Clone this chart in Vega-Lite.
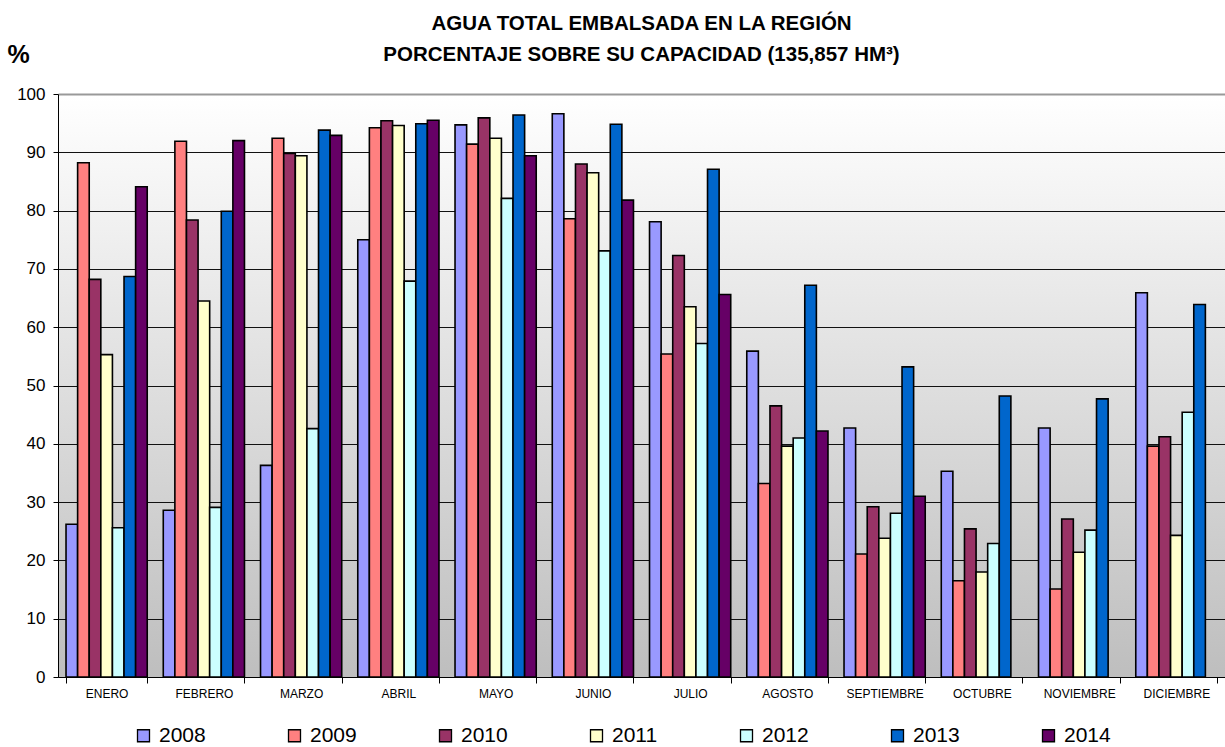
{
  "$schema": "https://vega.github.io/schema/vega-lite/v6.json",
  "width": 1167,
  "height": 583,
  "autosize": "none",
  "padding": {"left": 58, "top": 94, "right": 0, "bottom": 70},
  "title": {
    "text": ["AGUA TOTAL EMBALSADA EN LA REGIÓN", "PORCENTAJE SOBRE SU CAPACIDAD (135,857 HM³)"],
    "font": "Liberation Sans",
    "fontSize": 20.5,
    "fontWeight": "bold",
    "color": "#000",
    "anchor": "middle",
    "lineHeight": 31,
    "offset": -23
  },
  "data": {
    "values": [
      {"mes": "ENERO", "anio": "2008", "valor": 26.2},
      {"mes": "ENERO", "anio": "2009", "valor": 88.2},
      {"mes": "ENERO", "anio": "2010", "valor": 68.2},
      {"mes": "ENERO", "anio": "2011", "valor": 55.3},
      {"mes": "ENERO", "anio": "2012", "valor": 25.6},
      {"mes": "ENERO", "anio": "2013", "valor": 68.7},
      {"mes": "ENERO", "anio": "2014", "valor": 84.1},
      {"mes": "FEBRERO", "anio": "2008", "valor": 28.6},
      {"mes": "FEBRERO", "anio": "2009", "valor": 91.9},
      {"mes": "FEBRERO", "anio": "2010", "valor": 78.4},
      {"mes": "FEBRERO", "anio": "2011", "valor": 64.5},
      {"mes": "FEBRERO", "anio": "2012", "valor": 29.1},
      {"mes": "FEBRERO", "anio": "2013", "valor": 79.9},
      {"mes": "FEBRERO", "anio": "2014", "valor": 92.0},
      {"mes": "MARZO", "anio": "2008", "valor": 36.3},
      {"mes": "MARZO", "anio": "2009", "valor": 92.4},
      {"mes": "MARZO", "anio": "2010", "valor": 89.8},
      {"mes": "MARZO", "anio": "2011", "valor": 89.4},
      {"mes": "MARZO", "anio": "2012", "valor": 42.6},
      {"mes": "MARZO", "anio": "2013", "valor": 93.8},
      {"mes": "MARZO", "anio": "2014", "valor": 92.9},
      {"mes": "ABRIL", "anio": "2008", "valor": 75.0},
      {"mes": "ABRIL", "anio": "2009", "valor": 94.2},
      {"mes": "ABRIL", "anio": "2010", "valor": 95.4},
      {"mes": "ABRIL", "anio": "2011", "valor": 94.6},
      {"mes": "ABRIL", "anio": "2012", "valor": 67.9},
      {"mes": "ABRIL", "anio": "2013", "valor": 94.9},
      {"mes": "ABRIL", "anio": "2014", "valor": 95.5},
      {"mes": "MAYO", "anio": "2008", "valor": 94.7},
      {"mes": "MAYO", "anio": "2009", "valor": 91.4},
      {"mes": "MAYO", "anio": "2010", "valor": 95.9},
      {"mes": "MAYO", "anio": "2011", "valor": 92.4},
      {"mes": "MAYO", "anio": "2012", "valor": 82.1},
      {"mes": "MAYO", "anio": "2013", "valor": 96.4},
      {"mes": "MAYO", "anio": "2014", "valor": 89.4},
      {"mes": "JUNIO", "anio": "2008", "valor": 96.6},
      {"mes": "JUNIO", "anio": "2009", "valor": 78.6},
      {"mes": "JUNIO", "anio": "2010", "valor": 88.0},
      {"mes": "JUNIO", "anio": "2011", "valor": 86.5},
      {"mes": "JUNIO", "anio": "2012", "valor": 73.1},
      {"mes": "JUNIO", "anio": "2013", "valor": 94.8},
      {"mes": "JUNIO", "anio": "2014", "valor": 81.8},
      {"mes": "JULIO", "anio": "2008", "valor": 78.1},
      {"mes": "JULIO", "anio": "2009", "valor": 55.4},
      {"mes": "JULIO", "anio": "2010", "valor": 72.3},
      {"mes": "JULIO", "anio": "2011", "valor": 63.5},
      {"mes": "JULIO", "anio": "2012", "valor": 57.2},
      {"mes": "JULIO", "anio": "2013", "valor": 87.1},
      {"mes": "JULIO", "anio": "2014", "valor": 65.6},
      {"mes": "AGOSTO", "anio": "2008", "valor": 55.9},
      {"mes": "AGOSTO", "anio": "2009", "valor": 33.2},
      {"mes": "AGOSTO", "anio": "2010", "valor": 46.5},
      {"mes": "AGOSTO", "anio": "2011", "valor": 39.6},
      {"mes": "AGOSTO", "anio": "2012", "valor": 41.0},
      {"mes": "AGOSTO", "anio": "2013", "valor": 67.2},
      {"mes": "AGOSTO", "anio": "2014", "valor": 42.2},
      {"mes": "SEPTIEMBRE", "anio": "2008", "valor": 42.7},
      {"mes": "SEPTIEMBRE", "anio": "2009", "valor": 21.1},
      {"mes": "SEPTIEMBRE", "anio": "2010", "valor": 29.2},
      {"mes": "SEPTIEMBRE", "anio": "2011", "valor": 23.8},
      {"mes": "SEPTIEMBRE", "anio": "2012", "valor": 28.1},
      {"mes": "SEPTIEMBRE", "anio": "2013", "valor": 53.2},
      {"mes": "SEPTIEMBRE", "anio": "2014", "valor": 31.0},
      {"mes": "OCTUBRE", "anio": "2008", "valor": 35.3},
      {"mes": "OCTUBRE", "anio": "2009", "valor": 16.5},
      {"mes": "OCTUBRE", "anio": "2010", "valor": 25.4},
      {"mes": "OCTUBRE", "anio": "2011", "valor": 18.0},
      {"mes": "OCTUBRE", "anio": "2012", "valor": 22.9},
      {"mes": "OCTUBRE", "anio": "2013", "valor": 48.2},
      {"mes": "NOVIEMBRE", "anio": "2008", "valor": 42.7},
      {"mes": "NOVIEMBRE", "anio": "2009", "valor": 15.1},
      {"mes": "NOVIEMBRE", "anio": "2010", "valor": 27.1},
      {"mes": "NOVIEMBRE", "anio": "2011", "valor": 21.4},
      {"mes": "NOVIEMBRE", "anio": "2012", "valor": 25.2},
      {"mes": "NOVIEMBRE", "anio": "2013", "valor": 47.7},
      {"mes": "DICIEMBRE", "anio": "2008", "valor": 65.9},
      {"mes": "DICIEMBRE", "anio": "2009", "valor": 39.6},
      {"mes": "DICIEMBRE", "anio": "2010", "valor": 41.2},
      {"mes": "DICIEMBRE", "anio": "2011", "valor": 24.3},
      {"mes": "DICIEMBRE", "anio": "2012", "valor": 45.4},
      {"mes": "DICIEMBRE", "anio": "2013", "valor": 63.9}
    ]
  },
  "mark": {"type": "bar", "stroke": "#000", "strokeWidth": 1.6, "cornerRadius": 0},
  "encoding": {
    "x": {
      "field": "mes",
      "type": "nominal",
      "sort": ["ENERO", "FEBRERO", "MARZO", "ABRIL", "MAYO", "JUNIO", "JULIO", "AGOSTO", "SEPTIEMBRE", "OCTUBRE", "NOVIEMBRE", "DICIEMBRE"],
      "scale": {"paddingInner": 0.165, "paddingOuter": 0.0825},
      "axis": {
        "title": null,
        "labelAngle": 0,
        "labelFont": "Liberation Sans",
        "labelFontSize": 12,
        "labelColor": "#000",
        "labelPadding": 5,
        "tickBand": "extent",
        "tickSize": 6,
        "tickColor": "#000",
        "domainColor": "#000",
        "grid": false
      }
    },
    "xOffset": {
      "field": "anio",
      "type": "nominal",
      "scale": {"domain": ["2008", "2009", "2010", "2011", "2012", "2013", "2014"], "paddingInner": 0, "paddingOuter": 0}
    },
    "y": {
      "field": "valor",
      "type": "quantitative",
      "scale": {"domain": [0, 100], "nice": false},
      "axis": {
        "title": "%",
        "titleAngle": 0,
        "titleFont": "Liberation Sans",
        "titleFontSize": 25,
        "titleFontWeight": "bold",
        "titleColor": "#000",
        "titleAlign": "left",
        "titleBaseline": "middle",
        "titleX": -51,
        "titleY": -40,
        "values": [0, 10, 20, 30, 40, 50, 60, 70, 80, 90, 100],
        "labelFont": "Liberation Sans",
        "labelFontSize": 17,
        "labelColor": "#000",
        "labelPadding": 8,
        "tickSize": 5,
        "tickColor": "#000",
        "domainColor": "#000",
        "grid": true,
        "gridColor": {"condition": {"test": "datum.value == 100", "value": "#999"}, "value": "#111"},
        "gridWidth": {"condition": {"test": "datum.value == 100", "value": 2}, "value": 1},
        "gridOpacity": 1
      }
    },
    "color": {
      "field": "anio",
      "type": "nominal",
      "scale": {
        "domain": ["2008", "2009", "2010", "2011", "2012", "2013", "2014"],
        "range": ["#9999FF", "#FF8080", "#993366", "#FFFFCC", "#CCFFFF", "#0066CC", "#660066"]
      },
      "legend": {
        "title": null,
        "orient": "none",
        "direction": "horizontal",
        "legendX": 75,
        "legendY": 631,
        "symbolType": "square",
        "symbolSize": 144,
        "symbolStrokeColor": "#000",
        "symbolStrokeWidth": 1.3,
        "symbolOpacity": 1,
        "labelFont": "Liberation Sans",
        "labelFontSize": 21,
        "labelColor": "#000",
        "labelOffset": 5,
        "columnPadding": 78,
        "labelLimit": 100
      }
    }
  },
  "config": {
    "view": {
      "stroke": null,
      "fill": {
        "gradient": "linear",
        "x1": 0, "y1": 0, "x2": 0, "y2": 1,
        "stops": [
          {"offset": 0, "color": "#FFFFFF"},
          {"offset": 1, "color": "#BEBEBE"}
        ]
      }
    },
    "background": "#FFFFFF"
  }
}
